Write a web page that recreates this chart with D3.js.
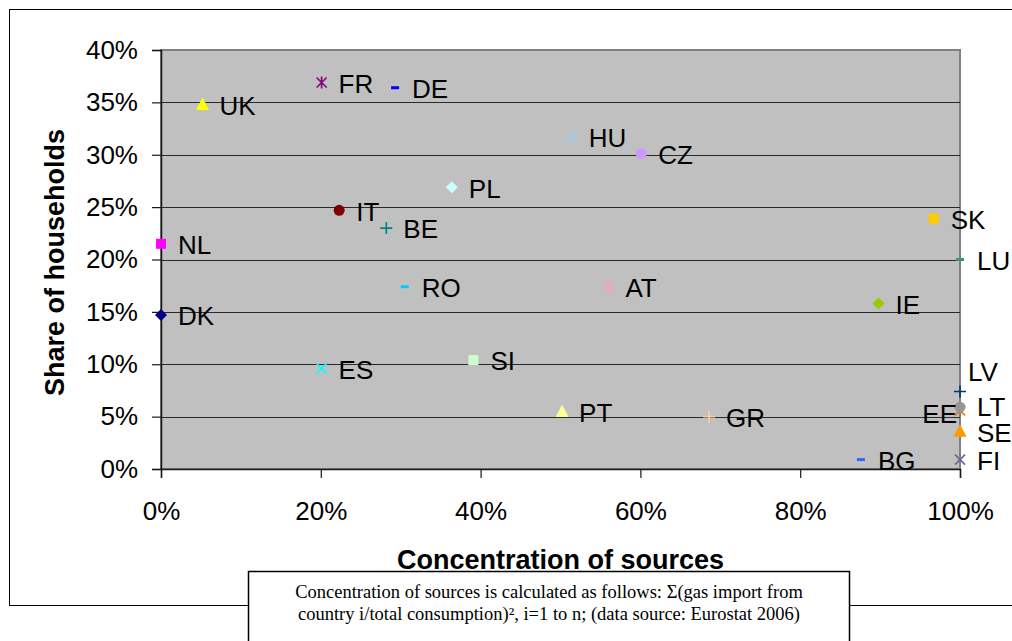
<!DOCTYPE html>
<html>
<head>
<meta charset="utf-8">
<script src="https://cdn.jsdelivr.net/npm/d3@7"></script>
<style>
  html, body { margin: 0; padding: 0; background: #fff; }
  svg { display: block; }
</style>
</head>
<body>
<svg id="chart" width="1012" height="641"></svg>
<script>
// ---- Data ----
const countries     = ["FR","DE","UK","IT","BE","PL","NL","HU","CZ","AT","SK","LU","IE","LV","EE","LT","SE","FI","BG","DK","RO","ES","SI","PT","GR"];
const concentration = [20.1, 29.3, 5.2, 22.3, 28.2, 36.4, 0, 51.4, 60.1, 56.0, 96.7, 100, 89.8, 100, 100, 100, 100, 100, 87.6, 0, 30.5, 20.1, 39.1, 50.2, 68.6];
const households    = [36.9, 36.4, 34.8, 24.7, 23.0, 26.9, 21.5, 31.7, 30.1, 17.4, 23.9, 20.0, 15.8, 7.4, 5.6, 5.9, 3.6, 0.9, 0.9, 14.7, 17.4, 9.6, 10.4, 5.5, 5.0];
const xTicks = [0, 20, 40, 60, 80, 100];
const yTicks = [0, 5, 10, 15, 20, 25, 30, 35, 40];
const xTitle = "Concentration of sources";
const yTitle = "Share of households";
const noteLines = [
  "Concentration of sources is calculated as follows: \u03A3(gas import from",
  "country i/total consumption)\u00B2, i=1 to n; (data source: Eurostat 2006)"
];

// ---- Styles ----
const markerShapes = ["asterisk","dash","triangle","circle","plus","diamond","square","x","circle","asterisk","square","dash","diamond","plus","x","circle","triangle","x","dash","diamond","dash","x","square","triangle","plus"];
const markerColors = ["#800080","#0000FF","#FFFF00","#800000","#008080","#CCFFFF","#FF00FF","#99CCFF","#CC99FF","#FF99CC","#FFCC00","#339966","#99CC00","#003366","#FF6600","#969696","#FF9900","#666699","#3366FF","#000080","#00CCFF","#00FFFF","#CCFFCC","#FFFF99","#FFCC99"];

const svg = d3.select("#chart");
const plot = { left: 161, top: 50, right: 960, bottom: 469 };

const x = d3.scaleLinear().domain([0, 100]).range([plot.left, plot.right]);
const y = d3.scaleLinear().domain([0, 40]).range([plot.bottom, plot.top]);

// Outer chart frame
svg.append("rect")
  .attr("x", 9.5).attr("y", 9.5).attr("width", 1020).attr("height", 596)
  .attr("fill", "#fff").attr("stroke", "#000").attr("stroke-width", 1);

// Plot area
svg.append("rect")
  .attr("x", plot.left).attr("y", plot.top)
  .attr("width", plot.right - plot.left).attr("height", plot.bottom - plot.top)
  .attr("fill", "#C0C0C0").attr("stroke", "#808080").attr("stroke-width", 2);

// Horizontal gridlines
svg.append("g").selectAll("line")
  .data(yTicks.filter(t => t > 0 && t < 40))
  .join("line")
  .attr("x1", plot.left).attr("x2", plot.right)
  .attr("y1", d => Math.round(y(d)) + 0.5).attr("y2", d => Math.round(y(d)) + 0.5)
  .attr("stroke", "#2a2a2a").attr("stroke-width", 1);

// Axes
const fmt = d => d + "%";
const yAxis = svg.append("g")
  .attr("transform", `translate(${plot.left},0)`)
  .call(d3.axisLeft(y).tickValues(yTicks).tickFormat(fmt).tickSize(9).tickPadding(14));
const xAxis = svg.append("g")
  .attr("transform", `translate(0,${plot.bottom})`)
  .call(d3.axisBottom(x).tickValues(xTicks).tickFormat(fmt).tickSize(9).tickPadding(24));

[yAxis, xAxis].forEach(g => {
  g.select(".domain").attr("stroke", "#1a1a1a").attr("stroke-width", 1.5);
  g.selectAll(".tick line").attr("stroke", "#1a1a1a").attr("stroke-width", 1.2);
  g.selectAll(".tick text")
    .attr("font-family", "'Liberation Sans', Arial, sans-serif")
    .attr("font-size", 26).attr("fill", "#000");
});

// Axis titles
svg.append("text")
  .attr("x", (plot.left + plot.right) / 2).attr("y", 569)
  .attr("text-anchor", "middle")
  .attr("font-family", "'Liberation Sans', Arial, sans-serif")
  .attr("font-weight", "bold").attr("font-size", 27)
  .text(xTitle);
svg.append("text")
  .attr("transform", `translate(64,${(plot.top + plot.bottom) / 2 + 3}) rotate(-90)`)
  .attr("text-anchor", "middle")
  .attr("font-family", "'Liberation Sans', Arial, sans-serif")
  .attr("font-weight", "bold").attr("font-size", 27)
  .text(yTitle);

// Marker drawing
function drawMarker(g, shape, color) {
  switch (shape) {
    case "triangle":
      g.append("path").attr("d", "M0,-7L6.5,5.5L-6.5,5.5Z").attr("fill", color); break;
    case "square":
      g.append("rect").attr("x", -5).attr("y", -5).attr("width", 10).attr("height", 10).attr("fill", color); break;
    case "diamond":
      g.append("path").attr("d", "M0,-6L6,0L0,6L-6,0Z").attr("fill", color); break;
    case "circle":
      g.append("circle").attr("r", 5.5).attr("fill", color); break;
    case "dash":
      g.append("rect").attr("x", -4).attr("y", -1.5).attr("width", 8).attr("height", 3).attr("fill", color); break;
    case "x":
      g.append("path").attr("d", "M-5,-5L5,5M-5,5L5,-5").attr("stroke", color).attr("stroke-width", 1.6).attr("fill", "none"); break;
    case "plus":
      g.append("path").attr("d", "M-6,0L6,0M0,-6L0,6").attr("stroke", color).attr("stroke-width", 1.6).attr("fill", "none"); break;
    case "asterisk":
      g.append("path").attr("d", "M-5,-5L5,5M-5,5L5,-5M0,-6L0,6").attr("stroke", color).attr("stroke-width", 1.6).attr("fill", "none"); break;
  }
}

const pts = countries.map((c, i) => ({ name: c, cx: concentration[i], cy: households[i], shape: markerShapes[i], color: markerColors[i] }));

const mg = svg.append("g");
pts.forEach(p => {
  const g = mg.append("g").attr("transform", `translate(${x(p.cx)},${y(p.cy)})`);
  drawMarker(g, p.shape, p.color);
});

// Data labels
const lg = svg.append("g")
  .attr("font-family", "'Liberation Sans', Arial, sans-serif")
  .attr("font-size", 26).attr("fill", "#000");
pts.forEach(p => {
  let dx = 17, dy = 1, anchor = "start";
  if (p.name === "LV") { dx = 8; dy = -20; }
  if (p.name === "EE") { dx = -3; dy = 3; anchor = "end"; }
  if (p.name === "LT") { dy = -1; }
  lg.append("text")
    .attr("x", x(p.cx) + dx).attr("y", y(p.cy) + dy)
    .attr("dy", "0.36em")
    .attr("text-anchor", anchor)
    .text(p.name);
});

// Note box
svg.append("rect")
  .attr("x", 248.5).attr("y", 571.5).attr("width", 601).attr("height", 80)
  .attr("fill", "#fff").attr("stroke", "#000").attr("stroke-width", 1.5);
svg.append("g").selectAll("text")
  .data(noteLines)
  .join("text")
  .attr("x", 549).attr("y", (d, i) => 598 + i * 22)
  .attr("text-anchor", "middle")
  .attr("font-family", "'Liberation Serif', 'Times New Roman', serif")
  .attr("font-size", 18.5).attr("fill", "#000")
  .text(d => d);
</script>
</body>
</html>
